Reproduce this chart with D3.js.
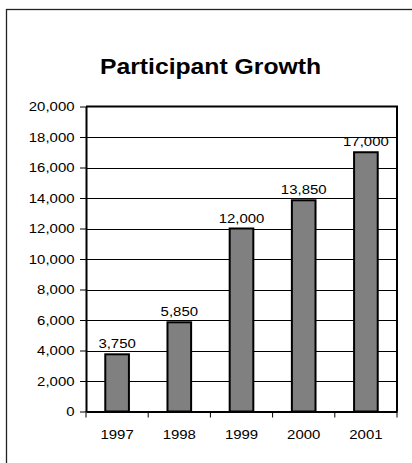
<!DOCTYPE html>
<html>
<head>
<meta charset="utf-8">
<script src="https://cdn.jsdelivr.net/npm/d3@7"></script>
<style>
  body { margin: 0; background: #fff; }
  svg { display: block; }
  text { font-family: "Liberation Sans", Arial, sans-serif; fill: #000; }
</style>
</head>
<body>
<script>
// chart data
const years = ['1997', '1998', '1999', '2000', '2001'];
const participants = [3750, 5850, 12000, 13850, 17000];
const yTicks = [0, 2000, 4000, 6000, 8000, 10000, 12000, 14000, 16000, 18000, 20000];

const W = 412, H = 463;
const plot = { left: 86, right: 397, top: 106.5, bottom: 411.5 };
const sx = 1.15; // the original's text is a bit stretched sideways

const svg = d3.select('body').append('svg')
    .attr('width', W)
    .attr('height', H);

// outer frame, right and bottom edges fall outside the picture
svg.append('rect')
    .attr('x', 6.5).attr('y', 9.5)
    .attr('width', 430).attr('height', 480)
    .attr('fill', 'none')
    .attr('stroke', '#222')
    .attr('stroke-width', 1.3);

// title
svg.append('text')
    .attr('transform', `translate(210.5,74) scale(${sx},1)`)
    .attr('text-anchor', 'middle')
    .style('font-size', '21.5px')
    .style('font-weight', 'bold')
    .text('Participant Growth');

const x = d3.scaleBand().domain(years).range([plot.left, plot.right]);
const y = d3.scaleLinear().domain([0, 20000]).range([plot.bottom, plot.top]);
const fmt = d3.format(',');

// gridlines
svg.append('g')
    .selectAll('line')
    .data(yTicks.slice(1, -1))
    .join('line')
    .attr('x1', plot.left).attr('x2', plot.right)
    .attr('y1', d => Math.round(y(d)) + 0.5)
    .attr('y2', d => Math.round(y(d)) + 0.5)
    .attr('stroke', '#000')
    .attr('stroke-width', 1);

// bars
const barW = x.bandwidth() * 0.38;
svg.append('g')
    .selectAll('rect')
    .data(participants)
    .join('rect')
    .attr('x', (d, i) => x(years[i]) + (x.bandwidth() - barW) / 2)
    .attr('y', d => y(d))
    .attr('width', barW)
    .attr('height', d => plot.bottom - y(d))
    .attr('fill', '#808080')
    .attr('stroke', '#000')
    .attr('stroke-width', 2);

// value labels
svg.append('g')
    .selectAll('text')
    .data(participants)
    .join('text')
    .attr('transform', (d, i) => `translate(${x(years[i]) + x.bandwidth() / 2},${y(d) - 6}) scale(${sx},1)`)
    .attr('text-anchor', 'middle')
    .style('font-size', '13px')
    .text(d => fmt(d));

// plot frame top + right
svg.append('path')
    .attr('d', `M${plot.left},${plot.top}H${plot.right}V${plot.bottom}`)
    .attr('fill', 'none')
    .attr('stroke', '#000')
    .attr('stroke-width', 2);

// y axis
const yAxis = svg.append('g')
    .attr('transform', `translate(${plot.left},0)`)
    .call(d3.axisLeft(y).tickValues(yTicks).tickFormat(fmt).tickSize(6).tickSizeOuter(0));
yAxis.select('.domain').attr('stroke-width', 2);
yAxis.selectAll('.tick line').attr('stroke-width', 1);
yAxis.selectAll('text')
    .attr('x', -11.5 / sx)
    .attr('transform', `scale(${sx},1)`)
    .style('font-size', '13px')
    .style('font-family', '"Liberation Sans", Arial, sans-serif');

// x axis: labels centred, ticks at the category boundaries
const xAxis = svg.append('g')
    .attr('transform', `translate(0,${plot.bottom})`)
    .call(d3.axisBottom(x).tickSize(0).tickSizeOuter(0));
xAxis.select('.domain').attr('stroke-width', 2);
xAxis.selectAll('text')
    .attr('y', 27.5).attr('dy', 0)
    .attr('transform', `scale(${sx},1)`)
    .style('font-size', '13px')
    .style('font-family', '"Liberation Sans", Arial, sans-serif');
xAxis.append('g')
    .selectAll('line')
    .data([years[0]].concat(years))
    .join('line')
    .attr('x1', (d, i) => i === 0 ? x(d) : x(d) + x.bandwidth())
    .attr('x2', (d, i) => i === 0 ? x(d) : x(d) + x.bandwidth())
    .attr('y1', 0).attr('y2', 6)
    .attr('stroke', '#000')
    .attr('stroke-width', 1);
</script>
</body>
</html>
